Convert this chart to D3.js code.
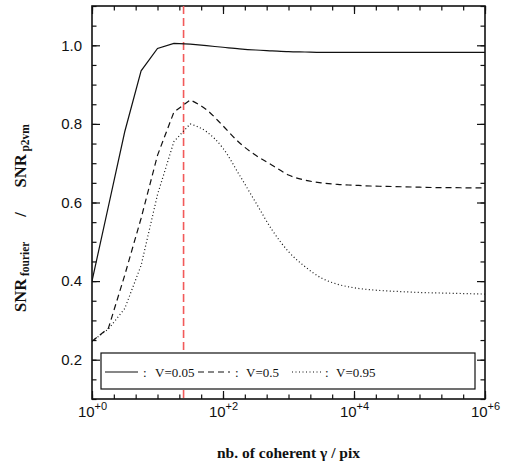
<!DOCTYPE html>
<html><head><meta charset="utf-8">
<script src="https://cdn.jsdelivr.net/npm/d3@7/dist/d3.min.js"></script>
<style>html,body{margin:0;padding:0;background:#fff;}</style>
</head><body>
<svg id="c" width="507" height="463"></svg>
<script>
// ---- data ----
const nCoherent = [1, 1.78, 3.16, 5.62, 10, 17.8, 31.6, 56.2, 100, 178, 316, 562, 1000, 1780, 3160, 5620,
  1e4, 1.78e4, 3.16e4, 5.62e4, 1e5, 1.78e5, 3.16e5, 5.62e5, 1e6];
const snrV005 = [0.40, 0.59, 0.78, 0.935, 0.992, 1.005, 1.003, 0.999, 0.995, 0.991, 0.988, 0.986, 0.984, 0.983, 0.982, 0.982,
  0.982, 0.982, 0.982, 0.982, 0.982, 0.982, 0.982, 0.982, 0.982];
const snrV05 = [0.247, 0.28, 0.415, 0.56, 0.72, 0.83, 0.861, 0.836, 0.795, 0.752, 0.72, 0.695, 0.670, 0.657, 0.650, 0.646,
  0.644, 0.642, 0.641, 0.640, 0.639, 0.638, 0.638, 0.637, 0.637];
const snrV095 = [0.247, 0.278, 0.33, 0.44, 0.62, 0.755, 0.80, 0.78, 0.738, 0.67, 0.60, 0.53, 0.475, 0.437, 0.408, 0.392,
  0.383, 0.378, 0.375, 0.373, 0.371, 0.370, 0.369, 0.368, 0.367];
const seriesNames = ["V=0.05", "V=0.5", "V=0.95"];
const refLineX = 25;
const yTickLabels = [0.2, 0.4, 0.6, 0.8, 1.0];
const xTickValues = [1, 100, 1e4, 1e6];
const xTickExponents = ["+0", "+2", "+4", "+6"];

// ---- layout ----
const L = 92, R = 485, T = 6, B = 399;
const svg = d3.select("#c");
const x = d3.scaleLog().domain([1, 1e6]).range([L, R]);
const y = d3.scaleLinear().domain([0.1, 1.1]).range([B, T]);

const sans = "'Liberation Sans', Arial, sans-serif";
const serif = "'Liberation Serif', 'Times New Roman', serif";

// minor tick positions
const yMinor = d3.range(0, 21).map(i => +(0.1 + i * 0.05).toFixed(3));
const xMinor = d3.range(0, 19).map(i => Math.pow(10, i / 3));

function styleAxis(g) {
  g.select(".domain").remove();
  g.selectAll("line").attr("stroke", "#111").attr("stroke-width", 1.2);
}

svg.append("g").attr("transform", `translate(${L},0)`).call(d3.axisLeft(y).tickValues(yMinor).tickSize(-4.5).tickFormat("")).call(styleAxis);
svg.append("g").attr("transform", `translate(${R},0)`).call(d3.axisRight(y).tickValues(yMinor).tickSize(-4.5).tickFormat("")).call(styleAxis);
svg.append("g").attr("transform", `translate(0,${B})`).call(d3.axisBottom(x).tickValues(xMinor).tickSize(-4.5).tickFormat("")).call(styleAxis);
svg.append("g").attr("transform", `translate(0,${T})`).call(d3.axisTop(x).tickValues(xMinor).tickSize(-4.5).tickFormat("")).call(styleAxis);

const gl = svg.append("g").attr("transform", `translate(${L},0)`)
  .call(d3.axisLeft(y).tickValues(yTickLabels).tickSize(-8).tickPadding(10).tickFormat(d3.format(".1f"))).call(styleAxis);
gl.selectAll("text").attr("font-family", sans).attr("font-size", 15).attr("fill", "#111");
svg.append("g").attr("transform", `translate(${R},0)`).call(d3.axisRight(y).tickValues(yTickLabels).tickSize(-8).tickFormat("")).call(styleAxis);
const gb = svg.append("g").attr("transform", `translate(0,${B})`)
  .call(d3.axisBottom(x).tickValues(xTickValues).tickSize(-8).tickPadding(9).tickFormat("")).call(styleAxis);
svg.append("g").attr("transform", `translate(0,${T})`).call(d3.axisTop(x).tickValues(xTickValues).tickSize(-8).tickFormat("")).call(styleAxis);

gb.selectAll(".tick").each(function(d, i) {
  const t = d3.select(this).select("text")
    .attr("font-family", sans).attr("font-size", 15).attr("fill", "#111")
    .attr("text-anchor", "middle").attr("y", 18).attr("dy", 0);
  t.text(null);
  t.append("tspan").text("10");
  t.append("tspan").attr("font-size", 11).attr("dy", -7).text(xTickExponents[i]);
});

svg.append("rect").attr("x", L).attr("y", T).attr("width", R - L).attr("height", B - T)
  .attr("fill", "none").attr("stroke", "#111").attr("stroke-width", 1.6);

svg.append("clipPath").attr("id", "clip").append("rect").attr("x", L).attr("y", T).attr("width", R - L).attr("height", B - T);
const plot = svg.append("g").attr("clip-path", "url(#clip)");

plot.append("line").attr("x1", x(refLineX)).attr("x2", x(refLineX)).attr("y1", y(1.1)).attr("y2", y(0.1))
  .attr("stroke", "#f25a5a").attr("stroke-width", 1.6).attr("stroke-dasharray", "8,4");

// piecewise-linear rise, smooth tail
const linLine = d3.line().x(d => x(d[0])).y(d => y(d[1]));
const smoothLine = d3.line().x(d => x(d[0])).y(d => y(d[1])).curve(d3.curveMonotoneX);
function pathFor(vals) {
  const pts = nCoherent.map((v, i) => [v, vals[i]]);
  const head = linLine(pts.slice(0, 7));
  const tail = smoothLine(pts.slice(6)).replace(/^M[^A-Za-z]*/, "");
  return head + tail;
}
const series = [
  { vals: snrV005, dash: null },
  { vals: snrV05, dash: "6,4" },
  { vals: snrV095, dash: "1,2.5" }
];
series.forEach(s => {
  plot.append("path").attr("d", pathFor(s.vals)).attr("fill", "none")
    .attr("stroke", "#111").attr("stroke-width", 1.2).attr("stroke-dasharray", s.dash);
});

// legend
const lg = svg.append("g");
lg.append("rect").attr("x", 101).attr("y", 353).attr("width", 374).attr("height", 36)
  .attr("fill", "#fff").attr("stroke", "#111").attr("stroke-width", 1.2);
const legendItems = [
  { x0: 105, x1: 138, cx: 143, vx: 155, dash: null },
  { x0: 198, x1: 230, cx: 235, vx: 246, dash: "6,4" },
  { x0: 292, x1: 321, cx: 325, vx: 336, dash: "1,2.5" }
];
legendItems.forEach((it, i) => {
  lg.append("line").attr("x1", it.x0).attr("x2", it.x1).attr("y1", 372).attr("y2", 372)
    .attr("stroke", "#111").attr("stroke-width", 1.2).attr("stroke-dasharray", it.dash);
  lg.append("text").attr("x", it.cx).attr("y", 376.5).attr("font-family", serif).attr("font-size", 13)
    .attr("fill", "#111").text(":");
  lg.append("text").attr("x", it.vx).attr("y", 376.5).attr("font-family", serif).attr("font-size", 13)
    .attr("fill", "#111").text(seriesNames[i]);
});

// x axis title
svg.append("text").attr("x", (L + R) / 2).attr("y", 458).attr("text-anchor", "middle")
  .attr("font-family", serif).attr("font-weight", "bold").attr("font-size", 15.5).attr("fill", "#111")
  .text("nb. of coherent γ / pix");

// y axis title
const yt = svg.append("text").attr("transform", "translate(26,218) rotate(-90)").attr("text-anchor", "middle")
  .attr("font-family", serif).attr("font-weight", "bold").attr("font-size", 16.5).attr("fill", "#111")
  .attr("xml:space", "preserve");
yt.append("tspan").text("SNR");
yt.append("tspan").attr("font-size", 11.5).attr("dy", 3).text(" fourier");
yt.append("tspan").attr("dy", -3).text("      /      SNR");
yt.append("tspan").attr("font-size", 11.5).attr("dy", 3).text(" p2vm");
</script>
</body></html>
